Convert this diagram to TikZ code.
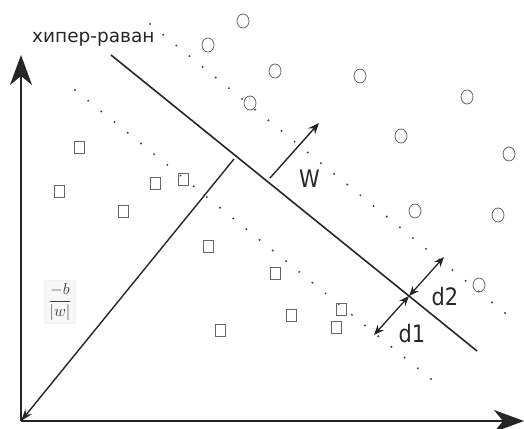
\documentclass[tikz,border=0pt]{standalone}
\usepackage{fontspec}
\usepackage{graphicx}
\setmainfont{DejaVu Sans}
\usetikzlibrary{arrows.meta,shapes.geometric,calc}
\begin{document}
\begin{tikzpicture}[x=1pt,y=-1pt,
  axis/.style={line width=1.6pt, draw=black!85, -{Stealth[length=30pt,width=22pt,inset=9pt]}},
  plane/.style={line width=1.6pt, draw=black!85},
  wvec/.style={line width=1.4pt, draw=black!85, -{Stealth[length=11pt,width=9pt]}},
  bvec/.style={line width=1.4pt, draw=black!85, -{Stealth[length=12pt,width=8pt]}},
  dvec/.style={line width=1.3pt, draw=black!85, {Stealth[length=10pt,width=8pt]}-{Stealth[length=10pt,width=8pt]}},
  posmark/.style={ellipse, draw=black!60, line width=0.8pt, minimum width=12pt, minimum height=14pt, inner sep=0pt},
  negmark/.style={rectangle, draw=black!60, line width=0.9pt, minimum width=10pt, minimum height=12pt, inner sep=0pt},
  marg/.style={fill=black!75},
  biglabel/.style={font=\fontsize{24}{24}\selectfont, inner sep=0pt, text=black!85},
]
\useasboundingbox (0,0) rectangle (524,428);
% axes
\coordinate (o) at (21,421);
\coordinate (ytip) at (21,55);
\coordinate (xtip) at (524,421);
\draw[axis] (o) -- (ytip);
\draw[axis] (o) -- (xtip);
% hyperplane
\coordinate (h1) at (111,55);
\coordinate (h2) at (477,351);
\draw[plane] (h1) -- (h2);
% margins (dotted)
\coordinate (u1) at (150,24);
\coordinate (u2) at (505,313);
\coordinate (l1) at (75,90);
\coordinate (l2) at (431,379);
\foreach \i in {0,...,27} {
  \fill[marg] ($(u1)!\i/27!(u2)$) circle (1.1pt);
  \fill[marg] ($(l1)!\i/27!(l2)$) circle (1.1pt);
}
% w vector
\coordinate (ws) at (270,178);
\coordinate (we) at (319,123);
\draw[wvec] (ws) -- (we);
\node[biglabel] (wl) at (309.5,179) {\scalebox{0.87}[1]{W}};
% -b/|w| vector
\coordinate (bs) at (234,159);
\draw[bvec] (bs) -- (o);
\node[fill=black!3, draw=black!5, inner sep=3pt, text=black!75] (bl) at (60,302) {\scalebox{1.6}{$\displaystyle\frac{-b}{|w|}$}};
% margins distances
\coordinate (m) at (409,296);
\coordinate (d2e) at (444,257);
\coordinate (d1e) at (374,335);
\draw[dvec] (m) -- (d2e);
\draw[dvec] (m) -- (d1e);
\node[biglabel] (d2l) at (445,296.5) {\scalebox{0.87}[1]{d2}};
\node[biglabel] (d1l) at (412,334) {\scalebox{0.87}[1]{d1}};
% hyperplane label
\node[anchor=base west, inner sep=0pt, font=\fontsize{18.5}{18.5}\selectfont, text=black!85] (hl) at (32,42) {хипер-раван};
% positive class
\foreach \n/\p in {p1/{243,21}, p2/{208,45}, p3/{275,71}, p4/{360,76}, p5/{467,97}, p6/{250,103}, p7/{401,136}, p8/{509,154}, p9/{415,211}, p10/{498,215}, p11/{479,285}}
  \node[posmark] (\n) at (\p) {};
% negative class
\foreach \n/\p in {n1/{79,147}, n2/{59,191}, n3/{155,183}, n4/{183,179}, n5/{123,211}, n6/{208,246}, n7/{220,330}, n8/{275,273}, n9/{291,315}, n10/{341,309}, n11/{336,327}}
  \node[negmark] (\n) at (\p) {};
\end{tikzpicture}
\end{document}
